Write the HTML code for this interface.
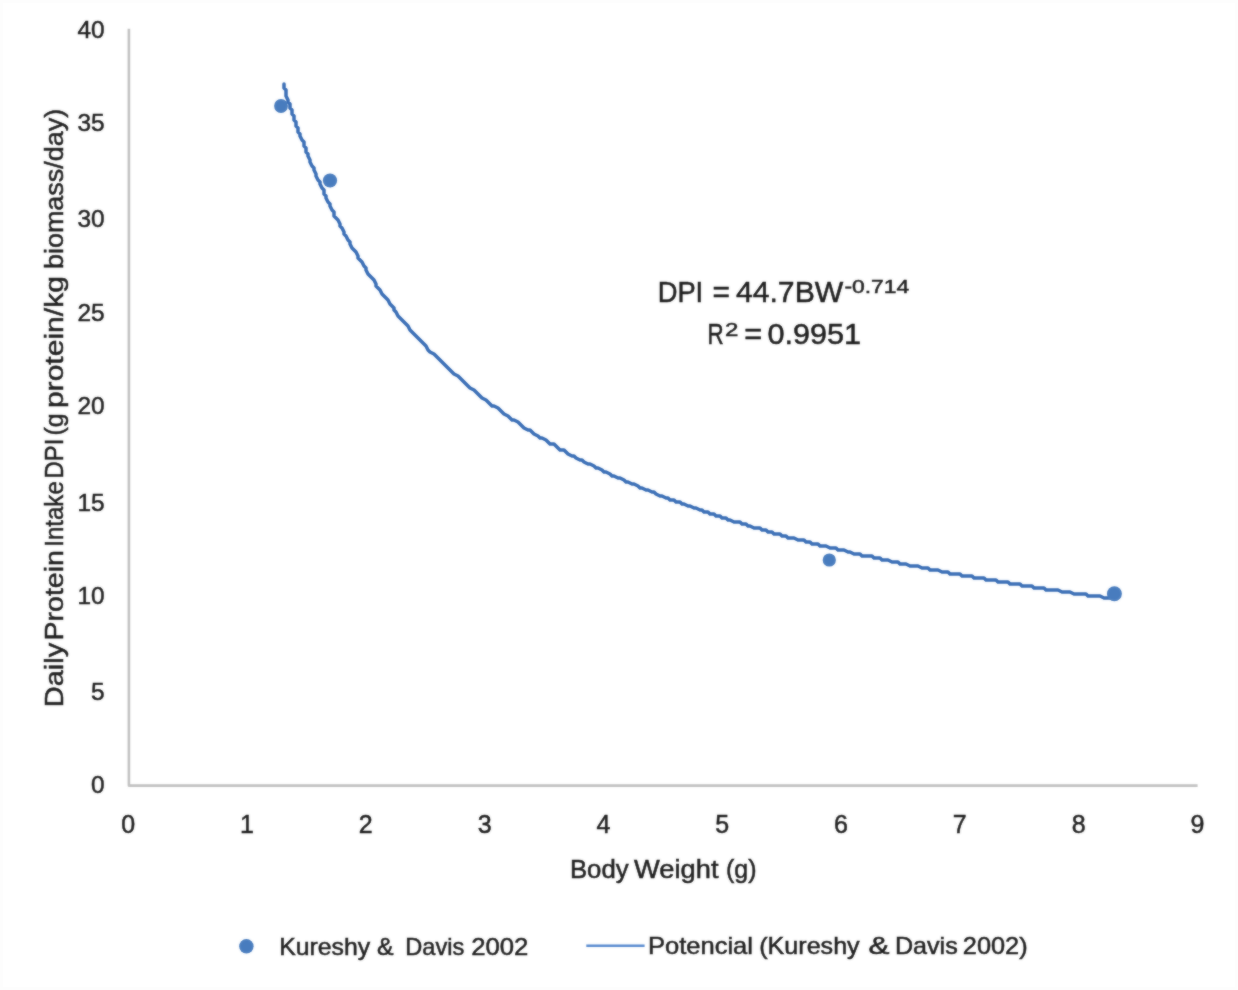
<!DOCTYPE html>
<html lang="en">
<head>
<meta charset="utf-8">
<title>Daily Protein Intake vs Body Weight</title>
<style>
html,body{margin:0;padding:0;background:#fff;}
body{width:1238px;height:990px;overflow:hidden;}
svg{display:block;}
text{font-family:"Liberation Sans", Arial, sans-serif;fill:#1d1d1d;stroke:#1d1d1d;stroke-width:0.5px;}
</style>
</head>
<body>
<svg width="1238" height="990" viewBox="0 0 1238 990">
<defs>
<filter id="soft" x="-2%" y="-2%" width="104%" height="104%" color-interpolation-filters="sRGB"><feGaussianBlur in="SourceGraphic" stdDeviation="0.9" result="b"/><feComposite in="SourceGraphic" in2="b" operator="arithmetic" k1="0" k2="0.5" k3="0.5" k4="0"/></filter>
</defs>
<rect x="0" y="0" width="1238" height="990" fill="#ffffff"/>
<rect x="1.5" y="1.5" width="1235" height="987" fill="none" stroke="#fdfdfd" stroke-width="3"/>
<!-- axes -->
<path filter="url(#soft)" d="M128.9,28.8 L128.9,785.6 L1197.6,785.6" fill="none" stroke="#c1c1c1" stroke-width="2.6" stroke-linejoin="round"/>
<g filter="url(#soft)">

<!-- y tick labels -->
<text x="104.6" y="38.2" font-size="24.4" text-anchor="end">40</text>
<text x="104.6" y="130.6" font-size="24.4" text-anchor="end">35</text>
<text x="104.6" y="227.4" font-size="24.4" text-anchor="end">30</text>
<text x="104.6" y="320.8" font-size="24.4" text-anchor="end">25</text>
<text x="104.6" y="414.0" font-size="24.4" text-anchor="end">20</text>
<text x="104.6" y="511.4" font-size="24.4" text-anchor="end">15</text>
<text x="104.6" y="604.2" font-size="24.4" text-anchor="end">10</text>
<text x="104.6" y="700.0" font-size="24.4" text-anchor="end">5</text>
<text x="104.6" y="793.3" font-size="24.4" text-anchor="end">0</text>
<!-- x tick labels -->
<text x="128.2" y="833.2" font-size="25" text-anchor="middle">0</text>
<text x="247.0" y="833.2" font-size="25" text-anchor="middle">1</text>
<text x="365.8" y="833.2" font-size="25" text-anchor="middle">2</text>
<text x="484.6" y="833.2" font-size="25" text-anchor="middle">3</text>
<text x="603.4" y="833.2" font-size="25" text-anchor="middle">4</text>
<text x="722.2" y="833.2" font-size="25" text-anchor="middle">5</text>
<text x="841.0" y="833.2" font-size="25" text-anchor="middle">6</text>
<text x="959.8" y="833.2" font-size="25" text-anchor="middle">7</text>
<text x="1078.6" y="833.2" font-size="25" text-anchor="middle">8</text>
<text x="1197.4" y="833.2" font-size="25" text-anchor="middle">9</text>
<!-- axis titles -->
<text y="878.4" font-size="25"><tspan x="569.9" textLength="58.7" lengthAdjust="spacingAndGlyphs">Body</tspan> <tspan x="634.1" textLength="84.4" lengthAdjust="spacingAndGlyphs">Weight</tspan> <tspan x="726.0" textLength="30.5" lengthAdjust="spacingAndGlyphs">(g)</tspan></text>
<text transform="rotate(-90)" y="63.4" font-size="26.5"><tspan x="-707.2" textLength="64.4" lengthAdjust="spacingAndGlyphs">Daily</tspan> <tspan x="-640.5" textLength="90.4" lengthAdjust="spacingAndGlyphs">Protein</tspan> <tspan x="-546.8" textLength="65.6" lengthAdjust="spacingAndGlyphs">Intake</tspan> <tspan x="-478.4" textLength="39.7" lengthAdjust="spacingAndGlyphs">DPI</tspan> <tspan x="-435.6" textLength="22.2" lengthAdjust="spacingAndGlyphs">(g</tspan> <tspan x="-408.1" textLength="132.0" lengthAdjust="spacingAndGlyphs">protein/kg</tspan> <tspan x="-269.1" textLength="160.3" lengthAdjust="spacingAndGlyphs">biomass/day)</tspan></text>
<!-- trendline -->
<path d="M284.0,84.0 L284.0,88.0 L286.0,90.0 L286.0,94.0 L286.0,96.0 L288.0,100.0 L288.0,102.0 L290.0,104.0 L290.0,108.0 L292.0,110.0 L292.0,114.0 L294.0,116.0 L294.0,120.0 L296.0,122.0 L296.0,126.0 L298.0,128.0 L298.0,132.0 L300.0,134.0 L300.0,136.0 L302.0,140.0 L304.0,142.0 L304.0,146.0 L306.0,148.0 L306.0,152.0 L308.0,154.0 L308.0,156.0 L310.0,160.0 L310.0,162.0 L312.0,166.0 L314.0,168.0 L314.0,170.0 L316.0,174.0 L316.0,176.0 L318.0,180.0 L320.0,182.0 L320.0,184.0 L322.0,188.0 L324.0,190.0 L324.0,194.0 L326.0,196.0 L326.0,198.0 L328.0,202.0 L330.0,204.0 L330.0,206.0 L332.0,210.0 L334.0,212.0 L334.0,216.0 L336.0,218.0 L338.0,220.0 L340.0,224.0 L340.0,226.0 L342.0,228.0 L344.0,232.0 L344.0,234.0 L346.0,236.0 L348.0,240.0 L350.0,242.0 L350.0,244.0 L352.0,248.0 L354.0,250.0 L356.0,252.0 L358.0,256.0 L358.0,258.0 L360.0,260.0 L362.0,262.0 L364.0,266.0 L366.0,268.0 L366.0,270.0 L368.0,274.0 L370.0,276.0 L372.0,278.0 L374.0,280.0 L376.0,284.0 L376.0,286.0 L378.0,288.0 L380.0,290.0 L382.0,294.0 L384.0,296.0 L386.0,298.0 L388.0,300.0 L390.0,304.0 L392.0,306.0 L394.0,308.0 L394.0,310.0 L396.0,312.0 L398.0,316.0 L400.0,318.0 L402.0,320.0 L404.0,322.0 L406.0,324.0 L408.0,326.0 L410.0,330.0 L412.0,332.0 L414.0,334.0 L416.0,336.0 L418.0,338.0 L420.0,340.0 L422.0,342.0 L424.0,344.0 L426.0,346.0 L428.0,350.0 L430.0,352.0 L434.0,354.0 L436.0,356.0 L438.0,358.0 L440.0,360.0 L442.0,362.0 L444.0,364.0 L446.0,366.0 L448.0,368.0 L450.0,370.0 L452.0,372.0 L454.0,374.0 L458.0,376.0 L460.0,378.0 L462.0,380.0 L464.0,382.0 L466.0,384.0 L468.0,386.0 L470.0,388.0 L474.0,390.0 L476.0,392.0 L478.0,394.0 L480.0,396.0 L482.0,398.0 L486.0,400.0 L488.0,402.0 L490.0,404.0 L492.0,406.0 L494.0,406.0 L498.0,408.0 L500.0,410.0 L502.0,412.0 L504.0,414.0 L508.0,416.0 L510.0,418.0 L512.0,420.0 L514.0,420.0 L518.0,422.0 L520.0,424.0 L522.0,426.0 L524.0,428.0 L528.0,430.0 L530.0,430.0 L532.0,432.0 L534.0,434.0 L538.0,436.0 L540.0,438.0 L542.0,438.0 L546.0,440.0 L548.0,442.0 L550.0,444.0 L554.0,444.0 L556.0,446.0 L558.0,448.0 L560.0,450.0 L564.0,450.0 L566.0,452.0 L568.0,454.0 L572.0,456.0 L574.0,456.0 L576.0,458.0 L580.0,460.0 L582.0,460.0 L584.0,462.0 L588.0,464.0 L590.0,464.0 L594.0,466.0 L596.0,468.0 L598.0,468.0 L602.0,470.0 L604.0,472.0 L606.0,472.0 L610.0,474.0 L612.0,476.0 L614.0,476.0 L618.0,478.0 L620.0,478.0 L624.0,480.0 L626.0,482.0 L628.0,482.0 L632.0,484.0 L634.0,484.0 L638.0,486.0 L640.0,488.0 L642.0,488.0 L646.0,490.0 L648.0,490.0 L652.0,492.0 L654.0,492.0 L656.0,494.0 L660.0,496.0 L662.0,496.0 L666.0,498.0 L668.0,498.0 L670.0,500.0 L674.0,500.0 L676.0,502.0 L680.0,502.0 L682.0,504.0 L684.0,504.0 L688.0,506.0 L690.0,506.0 L694.0,508.0 L696.0,508.0 L700.0,510.0 L702.0,510.0 L704.0,512.0 L708.0,512.0 L710.0,514.0 L714.0,514.0 L716.0,516.0 L720.0,516.0 L722.0,518.0 L726.0,518.0 L728.0,520.0 L730.0,520.0 L734.0,522.0 L736.0,522.0 L740.0,522.0 L742.0,524.0 L746.0,524.0 L748.0,526.0 L750.0,526.0 L754.0,528.0 L756.0,528.0 L760.0,528.0 L762.0,530.0 L766.0,530.0 L768.0,532.0 L772.0,532.0 L774.0,534.0 L778.0,534.0 L780.0,534.0 L782.0,536.0 L786.0,536.0 L788.0,538.0 L792.0,538.0 L794.0,538.0 L798.0,540.0 L800.0,540.0 L804.0,540.0 L806.0,542.0 L810.0,542.0 L812.0,544.0 L816.0,544.0 L818.0,544.0 L820.0,546.0 L824.0,546.0 L826.0,546.0 L830.0,548.0 L832.0,548.0 L836.0,548.0 L838.0,550.0 L842.0,550.0 L844.0,550.0 L848.0,552.0 L850.0,552.0 L854.0,554.0 L856.0,554.0 L860.0,554.0 L862.0,556.0 L866.0,556.0 L868.0,556.0 L872.0,556.0 L874.0,558.0 L876.0,558.0 L880.0,558.0 L882.0,560.0 L886.0,560.0 L888.0,560.0 L892.0,562.0 L894.0,562.0 L898.0,562.0 L900.0,564.0 L904.0,564.0 L906.0,564.0 L910.0,566.0 L912.0,566.0 L916.0,566.0 L918.0,566.0 L922.0,568.0 L924.0,568.0 L928.0,568.0 L930.0,570.0 L934.0,570.0 L936.0,570.0 L938.0,570.0 L942.0,572.0 L944.0,572.0 L948.0,572.0 L950.0,574.0 L954.0,574.0 L956.0,574.0 L960.0,574.0 L962.0,576.0 L966.0,576.0 L968.0,576.0 L972.0,576.0 L974.0,578.0 L978.0,578.0 L980.0,578.0 L984.0,578.0 L986.0,580.0 L990.0,580.0 L992.0,580.0 L996.0,580.0 L998.0,582.0 L1002.0,582.0 L1004.0,582.0 L1008.0,582.0 L1010.0,584.0 L1014.0,584.0 L1016.0,584.0 L1020.0,584.0 L1022.0,586.0 L1026.0,586.0 L1028.0,586.0 L1032.0,586.0 L1034.0,588.0 L1038.0,588.0 L1040.0,588.0 L1044.0,588.0 L1046.0,590.0 L1050.0,590.0 L1052.0,590.0 L1056.0,590.0 L1058.0,590.0 L1062.0,592.0 L1064.0,592.0 L1068.0,592.0 L1070.0,592.0 L1074.0,594.0 L1076.0,594.0 L1080.0,594.0 L1082.0,594.0 L1086.0,594.0 L1088.0,596.0 L1092.0,596.0 L1094.0,596.0 L1098.0,596.0 L1100.0,596.0 L1104.0,598.0 L1106.0,598.0 L1110.0,598.0 L1112.0,598.0 L1114.0,598.0" fill="none" stroke="#386db5" stroke-width="3.5" stroke-linejoin="round" stroke-linecap="round"/>
<!-- markers -->
<circle cx="281" cy="106" r="6.9" fill="#487cbe"/>
<circle cx="330" cy="180.5" r="7.1" fill="#487cbe"/>
<circle cx="829.3" cy="560.0" r="6.6" fill="#487cbe"/>
<circle cx="1114.4" cy="593.7" r="7.5" fill="#487cbe"/>
<!-- equation -->
<text y="302.2" font-size="29.2"><tspan x="657.7" textLength="45.5" lengthAdjust="spacingAndGlyphs">DPI</tspan> <tspan x="712.6" textLength="17.5" lengthAdjust="spacingAndGlyphs">=</tspan> <tspan x="735.9" textLength="107.4" lengthAdjust="spacingAndGlyphs">44.7BW</tspan></text>
<text y="293.2" font-size="19"><tspan x="844.4" textLength="64.8" lengthAdjust="spacingAndGlyphs">-0.714</tspan></text>
<text y="344.2" font-size="29.2"><tspan x="707.6" textLength="16.2" lengthAdjust="spacingAndGlyphs">R</tspan> <tspan x="744.2" textLength="18.0" lengthAdjust="spacingAndGlyphs">=</tspan> <tspan x="767.5" textLength="93.6" lengthAdjust="spacingAndGlyphs">0.9951</tspan></text>
<text y="335.5" font-size="19"><tspan x="724.9" textLength="13.4" lengthAdjust="spacingAndGlyphs">2</tspan></text>
<!-- legend -->
<circle cx="246.4" cy="946.3" r="7.2" fill="#487cbe"/>
<text y="954.8" font-size="24"><tspan x="279.2" textLength="91.0" lengthAdjust="spacingAndGlyphs">Kureshy</tspan> <tspan x="376.9" textLength="16.6" lengthAdjust="spacingAndGlyphs">&amp;</tspan> <tspan x="405.3" textLength="59.0" lengthAdjust="spacingAndGlyphs">Davis</tspan> <tspan x="471.2" textLength="57.2" lengthAdjust="spacingAndGlyphs">2002</tspan></text>
<path d="M586.3,945.8 L644.6,945.8" stroke="#5689cf" stroke-width="2.6" fill="none"/>
<text y="954.3" font-size="24"><tspan x="647.9" textLength="105.1" lengthAdjust="spacingAndGlyphs">Potencial</tspan> <tspan x="759.2" textLength="100.5" lengthAdjust="spacingAndGlyphs">(Kureshy</tspan> <tspan x="868.5" textLength="21.0" lengthAdjust="spacingAndGlyphs">&amp;</tspan> <tspan x="894.9" textLength="62.9" lengthAdjust="spacingAndGlyphs">Davis</tspan> <tspan x="962.8" textLength="64.8" lengthAdjust="spacingAndGlyphs">2002)</tspan></text>
</g>
</svg>
</body>
</html>
